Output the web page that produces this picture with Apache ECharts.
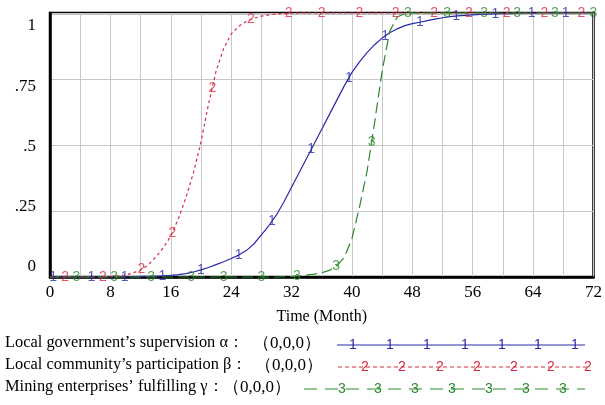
<!DOCTYPE html>
<html>
<head>
<meta charset="utf-8">
<script src="https://cdn.jsdelivr.net/npm/echarts@6/dist/echarts.min.js"></script>
<style>html,body{margin:0;padding:0;background:#fff}#c{width:605px;height:405px}</style>
</head>
<body>
<div id="c"></div>
<script>
// ---- data ----
const months = [];
for (let m = 0; m <= 72; m++) months.push(m);

const govAlpha = [0,0,0,0,0,0,0,0,0,0,0.001,0.001,0.002,0.002,0.003,0.004,0.006,0.009,0.013,0.019,
  0.027,0.036,0.047,0.058,0.07,0.083,0.1,0.125,0.16,0.195,0.235,0.285,0.34,0.395,0.45,0.505,0.56,0.615,0.67,0.725,
  0.775,0.815,0.85,0.88,0.905,0.925,0.94,0.952,0.96,0.965,0.971,0.977,0.982,0.986,0.989,0.991,0.993,0.995,0.996,0.997,
  0.998,0.998,0.999,0.999,0.999,1,1,1,1,1,1,1,1];
const commBeta = [0,0,0,0,0,0,0,0,0.002,0.004,0.008,0.015,0.027,0.045,0.075,0.11,0.155,0.22,0.3,0.395,
  0.51,0.655,0.78,0.865,0.92,0.95,0.968,0.98,0.988,0.993,0.996,0.998,0.999,1,1,1,1,1,1,1,
  1,1,1,1,1,1,1,1,1,1,1,1,1,1,1,1,1,1,1,1,1,1,1,1,1,1,1,1,1,1,1,1,1];
const mineGamma = [0,0,0,0,0,0,0,0,0,0,0,0,0,0,0,0,0,0,0,0,0,0,0,0,0,0,0,0,0,0,
  0,0.001,0.002,0.004,0.007,0.011,0.016,0.025,0.042,0.075,0.145,0.265,0.4,0.585,0.78,0.93,0.985,0.998,1,1,
  1,1,1,1,1,1,1,1,1,1,1,1,1,1,1,1,1,1,1,1,1,1,1];

// curve label markers (month, value)
const govMarkT = [0.4,5.5,9.9,14.9,20,25,29.4,34.6,39.6,44.4,49,53.8,59,63.8,68.3];
const govMarkV = [0,0,0.001,0.004,0.027,0.083,0.21,0.483,0.755,0.913,0.965,0.988,0.997,0.999,1];
const commMarkT = [2,7,12.1,16.2,21.5,26.6,31.6,36,41,45.8,50.9,55.5,60.5,65.5,70.4];
const commMarkV = [0,0,0.029,0.168,0.717,0.975,0.999,1,1,1,1,1,1,1,1];
const mineMarkT = [3.5,8.5,13.4,18.7,23,28,32.7,37.9,42.6,47.4,52.6,57.5,61.9,66.9,72];
const mineMarkV = [0,0,0,0,0,0,0.003,0.04,0.51,0.999,1,1,1,1,1];

const yTicks = [0,0.25,0.5,0.75,1];
const yTickLabels = ['0','.25','.5','.75','1'];
const xLabelStep = 8;

const seriesNames = ['Local government\u2019s supervision \u03b1\uff1a',
                     'Local community\u2019s participation \u03b2\uff1a',
                     'Mining enterprises\u2019 fulfilling \u03b3\uff1a'];
const seriesSuffix = '\uff080,0,0\uff09';
const markChars = ['1','2','3'];

// ---- styles ----
const colors = ['#2a2aa6','#d82c44','#2a8a2a'];
const dashes = ['solid',[3,3],[11,5]];
const serif = '"Liberation Serif","Times New Roman",serif';
const sans = '"Liberation Sans",Arial,sans-serif';

const chart = echarts.init(document.getElementById('c'));
const curves = [govAlpha, commBeta, mineGamma];
const markTs = [govMarkT, commMarkT, mineMarkT];
const markVs = [govMarkV, commMarkV, mineMarkV];

const series = [];
curves.forEach((arr, k) => {
  series.push({
    type:'line', name: seriesNames[k], data: months.map((m,i)=>[m, arr[i]]),
    showSymbol:false, symbol:'none', clip:false, z: 3 + k,
    lineStyle:{color:colors[k], width:1.2, type:dashes[k]}, animation:false
  });
});
markTs.forEach((ts, k) => {
  series.push({
    type:'scatter', data: ts.map((t,i)=>[t, markVs[k][i]]), symbol:'circle', symbolSize:1, clip:false,
    itemStyle:{color:'rgba(0,0,0,0)'}, z: 6 + k, animation:false, silent:true,
    label:{show:true, position:'inside', formatter: markChars[k], color:colors[k], fontFamily:sans, fontSize:14}
  });
});

// legend drawn as graphic elements (text + sample line with number markers)
const legRowsY = [345,367,389];
const legSuffixX = [253,255,223];
const legLine = [[337,585],[338,590],[304,585]];
const legMarks = [[353,390,427,465,502,538,575],[365,402,440,477,514,551,588],[342,378,415,452,489,526,563]];
const graphics = [];
for (let k = 0; k < 3; k++) {
  const y = legRowsY[k];
  graphics.push({type:'text', left:5, top:y-10, style:{text:seriesNames[k], font:'16.4px '+serif, fill:'#000'}});
  graphics.push({type:'text', left:legSuffixX[k], top:y-10, style:{text:seriesSuffix, font:'17px '+serif, fill:'#000'}});
  graphics.push({type:'line', shape:{x1:legLine[k][0], y1:y, x2:legLine[k][1], y2:y},
    style:{stroke:colors[k], lineWidth:1.2, lineDash: k===0 ? null : (k===1?[4,3]:[13,8])}});
  legMarks[k].forEach(x => {
    graphics.push({type:'text', x:x, y:y, style:{text:markChars[k], font:'14px '+sans, fill:colors[k], align:'center', verticalAlign:'middle'}});
  });
}

chart.setOption({
  animation:false,
  backgroundColor:'#fff',
  grid:{left:50, top:13, width:547, height:264, show:true, borderColor:'#000', borderWidth:2.5, backgroundColor:'transparent'},
  xAxis:{type:'value', min:0, max:72, interval:4,
    name:'Time (Month)', nameLocation:'middle', nameGap:32,
    nameTextStyle:{fontFamily:serif, fontSize:16, color:'#000'},
    axisLine:{show:true, lineStyle:{color:'#000', width:2.5}}, axisTick:{show:false},
    axisLabel:{margin:7, fontFamily:serif, fontSize:17, color:'#000',
      formatter: v => (v % xLabelStep === 0 ? String(v) : '')},
    splitLine:{show:true, lineStyle:{color:'#c8c8c8', width:1}}},
  yAxis:[
    {type:'value', min:0, max:1, interval:0.25,
      axisLine:{show:true, lineStyle:{color:'#000', width:2.5}}, axisTick:{show:false},
      axisLabel:{show:false}, splitLine:{show:true, lineStyle:{color:'#c8c8c8', width:1}}},
    {type:'value', min:-0.0415, max:1.054, position:'left',
      axisLine:{show:false}, axisTick:{show:false}, splitLine:{show:false},
      axisLabel:{show:true, margin:14, fontFamily:serif, fontSize:17, color:'#000',
        customValues: yTicks,
        formatter: v => { const i = yTicks.findIndex(t => Math.abs(t - v) < 1e-6); return i >= 0 ? yTickLabels[i] : ''; }}}
  ],
  series: series,
  graphic: graphics
});
</script>
</body>
</html>
